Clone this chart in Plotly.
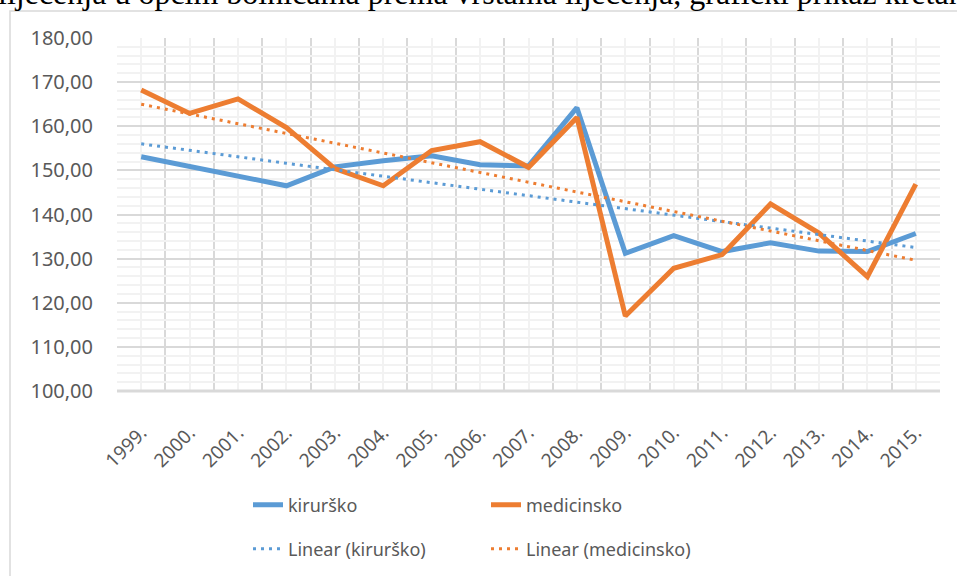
"""Bolnička opskrba: kirurško vs. medicinsko liječenje s linearnim trendom."""
import numpy as np
import plotly.graph_objects as go

years = list(range(1999, 2016))
year_labels = [f"{y}." for y in years]
kirursko = [153.1, 150.9, 148.6, 146.5, 150.8, 152.2, 153.3, 151.3, 151.0,
            164.2, 131.2, 135.2, 131.6, 133.6, 131.7, 131.6, 135.7]
medicinsko = [168.2, 162.9, 166.2, 159.7, 150.4, 146.5, 154.5, 156.5, 150.7,
              162.0, 117.0, 127.8, 130.9, 142.4, 135.8, 125.9, 146.9]

BLUE = "#5B9BD5"
ORANGE = "#ED7D31"
GREY = "#595959"
FONT = "Noto Sans"

W, H = 957, 576
ML, MR, MT, MB = 117, 17, 38, 185
PW, PH = W - ML - MR, H - MT - MB


def px_x(p):
    return (p - ML) / PW


def px_y(p):
    return (H - MB - p) / PH


def trend(vals):
    k, b = np.polyfit(years, vals, 1)
    return [k * y + b for y in years]


fig = go.Figure()
for name, vals, col in [("kirurško", kirursko, BLUE),
                        ("medicinsko", medicinsko, ORANGE)]:
    fig.add_trace(go.Scatter(x=years, y=vals, name=name, mode="lines",
                             line=dict(color=col, width=5), legend="legend"))
for name, vals, col in [("kirurško", kirursko, BLUE),
                        ("medicinsko", medicinsko, ORANGE)]:
    fig.add_trace(go.Scatter(x=years, y=trend(vals), name=f"Linear ({name})",
                             mode="lines", legend="legend2",
                             line=dict(color=col, width=3, dash="3px,5px")))

leg = dict(orientation="h", xanchor="left", yanchor="middle",
           xref="container", yref="container",
           entrywidth=193, font=dict(family=FONT, size=18, color=GREY),
           bgcolor="rgba(0,0,0,0)", tracegroupgap=0)
fig.update_layout(
    width=W, height=H, template="none",
    margin=dict(l=ML, r=MR, t=MT, b=MB, autoexpand=False),
    paper_bgcolor="white", plot_bgcolor="white",
    separators=", ",
    font=dict(family=FONT, size=19, color=GREY),
    legend=dict(leg, x=248 / W, y=1 - 505 / H),
    legend2=dict(leg, x=248 / W, y=1 - 549 / H),
    xaxis=dict(range=[1998.5, 2015.5], tickmode="array", tickvals=years,
               ticktext=year_labels, tickangle=-45, showgrid=True,
               gridcolor="#f2f2f2", gridwidth=1.5, zeroline=False,
               showline=False, ticks="", automargin=False,
               ticklabelstandoff=26,
               minor=dict(tickmode="array",
                          tickvals=[y + 0.5 for y in range(1998, 2016)],
                          showgrid=True, gridcolor="#d9d9d9", gridwidth=1.5,
                          ticks="")),
    yaxis=dict(range=[100, 180], dtick=10, tickformat=".2f", showgrid=True,
               gridcolor="#d9d9d9", gridwidth=1.5, zeroline=False,
               showline=False, ticks="", ticklabelstandoff=23, automargin=False,
               tickfont=dict(size=20),
               minor=dict(dtick=2, showgrid=True, gridcolor="#f2f2f2",
                          gridwidth=1.5, ticks="")),
)
# donja crta osi
fig.add_shape(type="line", xref="paper", yref="paper", x0=0, x1=1, y0=0, y1=0,
              line=dict(color="#d9d9d9", width=3))
# okvir grafikona
fig.add_shape(type="rect", xref="paper", yref="paper",
              x0=px_x(10), x1=px_x(W + 20), y0=px_y(H + 20), y1=px_y(11),
              line=dict(color="#d9d9d9", width=1.5), layer="below")
# odrezani tekst dokumenta iznad grafikona
fig.add_annotation(text="liječenja u općim bolnicama prema vrstama liječenja, "
                        "grafički prikaz kretanja",
                   xref="paper", yref="paper", x=px_x(-4), y=px_y(13),
                   xanchor="left", yanchor="bottom", showarrow=False,
                   font=dict(family="Liberation Serif", size=32, color="black"))
fig.write_html("out.html", config={"displayModeBar": False},
               post_script="document.body.style.margin='0';")
